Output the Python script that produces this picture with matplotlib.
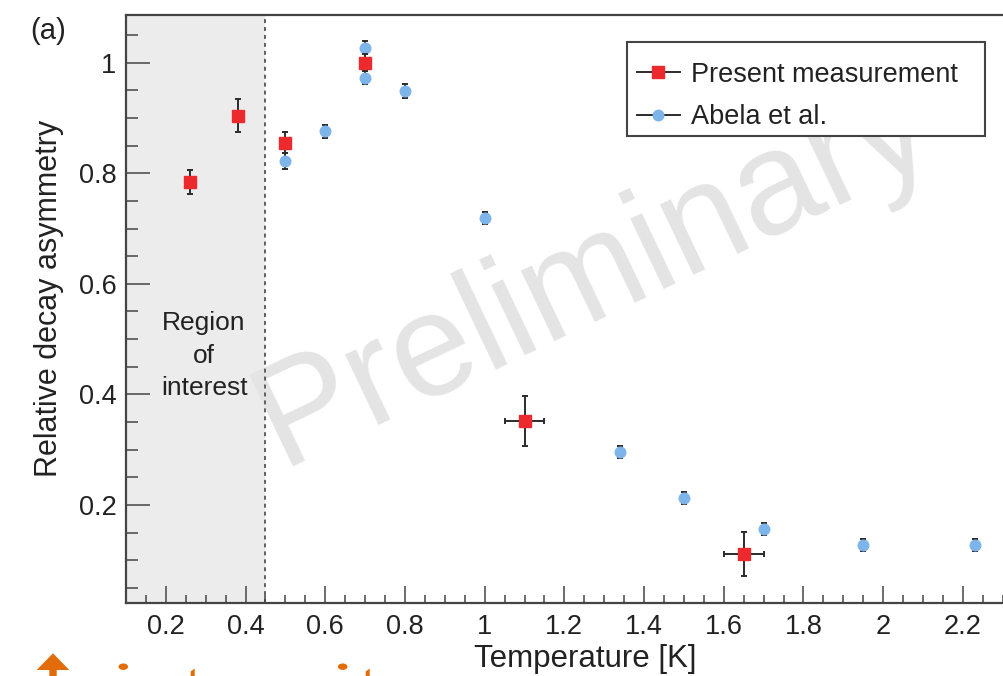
import matplotlib
matplotlib.use("Agg")
import matplotlib.pyplot as plt
from matplotlib.lines import Line2D
from matplotlib.patches import Polygon, Circle, Rectangle
from matplotlib.ticker import MultipleLocator, FuncFormatter

plt.rcParams['font.family'] = ['Liberation Sans', 'DejaVu Sans']

# ---------------- data ----------------
present_T = [0.26, 0.38, 0.50, 0.70, 1.10, 1.65]
present_A = [0.784, 0.904, 0.855, 1.000, 0.352, 0.111]
present_Aerr = [0.022, 0.030, 0.019, 0.015, 0.045, 0.040]
present_Terr = [0.0, 0.0, 0.0, 0.0, 0.05, 0.05]

abela_T = [0.50, 0.60, 0.70, 0.70, 0.80, 1.00, 1.34, 1.50, 1.70, 1.95, 2.23]
abela_A = [0.822, 0.876, 1.027, 0.973, 0.949, 0.719, 0.296, 0.212, 0.157, 0.127, 0.127]
abela_err = [0.014, 0.012, 0.012, 0.012, 0.012, 0.011, 0.011, 0.011, 0.011, 0.011, 0.011]

region_lo, region_hi = 0.10, 0.45

RED = '#ec2a2e'
BLUE = '#7db4ea'
EBC = '#2b2b2b'
AXC = '#444444'

W, H = 1004, 676
fig = plt.figure(figsize=(W / 100, H / 100), dpi=100)
ax = fig.add_axes([126 / W, 1 - 603.3 / H, 880.7 / W, 588.6 / H])

ax.set_xlim(0.10, 2.31)
ax.set_ylim(0.022, 1.087)

# shaded region of interest
ax.axvspan(region_lo, region_hi, color='#ececec', zorder=0, lw=0)
ax.axvline(region_hi, color='#555555', lw=1.3, ls=(0, (2.2, 2.2)), zorder=1)
ax.text(0.296, 0.470, 'Region\nof\ninterest',
        ha='center', va='center', fontsize=19, color='#222222', linespacing=1.45, zorder=2)

# watermark (behind data and text)
ax.text(610 / W, 1 - 309 / H, 'Preliminary', transform=fig.transFigure,
        fontsize=105, color='#e4e4e4', rotation=25.5, rotation_mode='anchor',
        ha='center', va='baseline', zorder=0.5, clip_on=False)

# data
ax.errorbar(abela_T, abela_A, yerr=abela_err, fmt='o', color=BLUE, ms=7.6,
            ecolor=EBC, elinewidth=1.4, capsize=2, capthick=1.4, zorder=3)
ax.errorbar(present_T, present_A, yerr=present_Aerr, xerr=present_Terr, fmt='s',
            color=RED, ms=8, ecolor=EBC, elinewidth=1.4, capsize=2.5, capthick=1.4, zorder=4)

# axes style
for side in ['left', 'bottom', 'top', 'right']:
    ax.spines[side].set_color(AXC)
    ax.spines[side].set_linewidth(1.6)

ax.xaxis.set_major_locator(MultipleLocator(0.2))
ax.xaxis.set_minor_locator(MultipleLocator(0.05))
ax.yaxis.set_major_locator(MultipleLocator(0.2))
ax.yaxis.set_minor_locator(MultipleLocator(0.05))
fmt = FuncFormatter(lambda v, p: ('%g' % round(v, 3)))
ax.xaxis.set_major_formatter(fmt)
ax.yaxis.set_major_formatter(fmt)

ax.tick_params(axis='both', which='both', direction='in', color=AXC, width=1.1,
               top=False, right=False, labelsize=19.5, labelcolor='#222222')
ax.tick_params(axis='y', which='major', length=17, pad=7)
ax.tick_params(axis='y', which='minor', length=8.6)
ax.tick_params(axis='x', which='major', length=12, pad=8)
ax.tick_params(axis='x', which='minor', length=6)

ax.set_xlabel('Temperature [K]', fontsize=22.5, color='#222222')
ax.xaxis.set_label_coords((585 - 126) / 880.7, -(644 - 603.3) / 588.6)
ax.set_ylabel('Relative decay asymmetry', fontsize=22, color='#222222')
ax.yaxis.set_label_coords((64 - 126) / 880.7, (603.3 - 298.5) / 588.6)

fig.text(30 / W, 1 - 39 / H, '(a)', fontsize=21, color='#222222', va='baseline')

# legend (frame drawn separately to match the boxed ROOT-style legend)
frame = Rectangle((627 / W, 1 - 136 / H), 358 / W, 94 / H, transform=fig.transFigure,
                  facecolor='white', edgecolor=AXC, lw=1.5, zorder=5)
fig.patches.append(frame)
handles = [
    Line2D([], [], color=EBC, lw=1.4, marker='s', ms=8, mfc=RED, mec=RED),
    Line2D([], [], color=EBC, lw=1.4, marker='o', ms=7.6, mfc=BLUE, mec=BLUE),
]
leg = fig.legend(handles, ['Present measurement', 'Abela et al.'],
                 loc='upper left', bbox_to_anchor=(627 / W, 1 - 51.8 / H),
                 fontsize=19.5, frameon=False, borderpad=0.36, labelspacing=0.62,
                 handlelength=1.6, handletextpad=0.4, borderaxespad=0)
leg.set_zorder(6)
for t in leg.get_texts():
    t.set_color('#222222')

# orange fragments of slide text at the bottom edge (cut off)
ORANGE = '#e36c0a'
def px(x, y):
    return (x / W, 1 - y / H)
arrow = Polygon([px(36.7, 670), px(53, 653.3), px(69.3, 670), px(56.7, 670),
                 px(56.7, 680), px(49.3, 680), px(49.3, 670)],
                closed=True, transform=fig.transFigure, color=ORANGE, lw=0)
fig.patches.append(arrow)
for cx in (123.3, 342.7):
    c = Circle(px(cx, 666.7), 4.8 / W, transform=fig.transFigure, color=ORANGE, lw=0)
    fig.patches.append(c)
for tx in (191.7, 366.7):
    p = Polygon([px(tx - 1, 680), px(tx - 1, 671.5), px(tx + 3, 668.5), px(tx + 3, 680)],
                closed=True, transform=fig.transFigure, color=ORANGE, lw=0)
    fig.patches.append(p)

fig.savefig('out.png', dpi=100)
